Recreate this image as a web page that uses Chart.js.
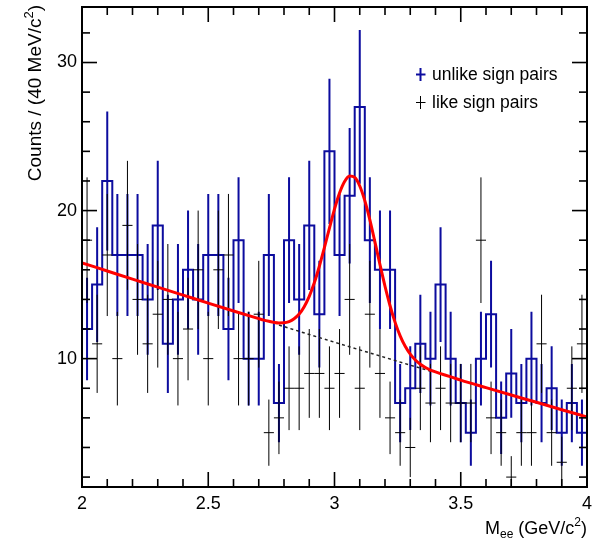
<!DOCTYPE html>
<html><head><meta charset="utf-8">
<script src="https://cdn.jsdelivr.net/npm/chart.js@4.4.1/dist/chart.umd.min.js"></script>
<style>html,body{margin:0;padding:0;background:#fff}#c{display:block}</style>
</head><body>
<canvas id="c" width="604" height="542"></canvas>
<script>
// ---- data ----
const xMin = 2.0, xMax = 4.0, binWidth = 0.04;
const yMin = 1.33, yMax = 33.75;
const unlikeCounts = [12,15,22,17,17,17,14,19,11,14,
                      16,14,17,17,12,18,10,10,17,7,
                      18,14,19,13,24,17,21,27,18,16,
                      16,7,8,11,10,15,10,7,5,10,
                      13,6,9,7,10,7,8,5,7,5];
const likeCounts   = [18,11,17,10,19,14,11,13,14,10,
                      12,16,10,16,17,10,10,13,5,6,
                      8,8,9,9,8,9,14,8,13,9,
                      6,5,4,8,7,8,7,7,7,18,
                      6,5,2,5,5,11,5,3,8,11];
const fitX = [2.0,2.1,2.2,2.3,2.4,2.5,2.6,2.7,
              2.72,2.74,2.76,2.78,2.80,2.82,2.84,2.86,2.88,2.90,
              2.92,2.94,2.96,2.98,3.00,3.02,3.04,3.06,3.08,3.10,
              3.12,3.14,3.16,3.18,3.20,3.22,3.24,3.26,3.28,3.30,
              3.32,3.34,3.36,3.38,3.40,
              3.5,3.6,3.7,3.8,3.9,4.0];
const fitY = [16.47,15.92,15.37,14.83,14.29,13.75,13.22,12.70,
              12.60,12.52,12.45,12.41,12.42,12.50,12.69,13.01,13.51,14.21,
              15.12,16.24,17.50,18.82,20.10,21.19,21.97,22.34,22.24,21.66,
              20.67,19.37,17.89,16.36,14.89,13.57,12.45,11.54,10.83,10.30,
              9.91,9.62,9.40,9.23,9.10,
              8.55,8.04,7.54,7.05,6.55,6.06];
const bgX = [2.78,2.9,3.0,3.1,3.2,3.3,3.38];
const bgY = [12.27,11.63,11.11,10.59,10.08,9.56,9.16];
const xTickLabels = ['2','2.5','3','3.5','4'];
const yTickLabels = ['10','20','30'];
const legendLabels = ['unlike sign pairs','like sign pairs'];

// ---- build datasets ----
const binLow = unlikeCounts.map((_, i) => +(xMin + binWidth * i).toFixed(2));
const centers = binLow.map(v => +(v + binWidth / 2).toFixed(2));

const histData = [];
unlikeCounts.forEach((n, i) => {
  histData.push({x: binLow[i], y: n}, {x: +(binLow[i] + binWidth).toFixed(2), y: n});
});
const unlikeErr = [];
unlikeCounts.forEach((n, i) => {
  const e = Math.sqrt(n);
  unlikeErr.push({x: centers[i], y: n - e}, {x: centers[i], y: n + e}, {x: centers[i], y: null});
});
const likeErr = [];
const likeBar = [];
likeCounts.forEach((n, i) => {
  const e = Math.sqrt(n);
  likeErr.push({x: centers[i], y: n - e}, {x: centers[i], y: n + e}, {x: centers[i], y: null});
  likeBar.push({x: binLow[i], y: n}, {x: +(binLow[i] + binWidth).toFixed(2), y: n}, {x: binLow[i], y: null});
});
const fitData = fitX.map((x, i) => ({x, y: fitY[i]}));
const bgData = bgX.map((x, i) => ({x, y: bgY[i]}));

const BLUE = '#0c0c9e';
const FONT = '"Liberation Sans", Arial, Helvetica, sans-serif';

const xMinor = []; for (let k = 0; k <= 20; k++) xMinor.push(+(xMin + 0.1 * k).toFixed(2));
const yMinor = []; for (let v = 2; v <= 32; v += 2) yMinor.push(v);

function drawRich(ctx, parts, xRight, baseline) {
  let W = 0;
  parts.forEach(p => { ctx.font = p.s + 'px ' + FONT; p.w = ctx.measureText(p.t).width; W += p.w; });
  let cx = xRight - W;
  parts.forEach(p => { ctx.font = p.s + 'px ' + FONT; ctx.fillText(p.t, cx, baseline + p.dy); cx += p.w; });
}

const decor = {
  id: 'decor',
  afterDraw(chart) {
    const {ctx, chartArea: a, scales: {x, y}} = chart;
    ctx.save();
    ctx.strokeStyle = '#000';
    ctx.lineWidth = 1.6;
    const seg = (x1, y1, x2, y2) => { ctx.beginPath(); ctx.moveTo(x1, y1); ctx.lineTo(x2, y2); ctx.stroke(); };
    xMinor.forEach(v => {
      const px = x.getPixelForValue(v);
      const L = (Math.abs(v * 2 - Math.round(v * 2)) < 1e-6) ? 15 : 8;
      seg(px, a.bottom, px, a.bottom - L);
      seg(px, a.top, px, a.top + L);
    });
    yMinor.forEach(v => {
      const py = y.getPixelForValue(v);
      const L = (v % 10 === 0) ? 15 : 8;
      seg(a.left, py, a.left + L, py);
      seg(a.right, py, a.right - L, py);
    });
    ctx.lineWidth = 2;
    ctx.strokeRect(a.left, a.top, a.right - a.left, a.bottom - a.top);

    // axis titles
    ctx.fillStyle = '#000';
    ctx.textBaseline = 'alphabetic';
    ctx.textAlign = 'left';
    drawRich(ctx, [
      {t: 'M', s: 18, dy: 0}, {t: 'ee', s: 12, dy: 4},
      {t: ' (GeV/c', s: 18, dy: 0}, {t: '2', s: 12, dy: -8}, {t: ')', s: 18, dy: 0}
    ], a.right, 534);
    ctx.save();
    ctx.translate(41, a.top - 2);
    ctx.rotate(-Math.PI / 2);
    drawRich(ctx, [
      {t: 'Counts / (40 MeV/c', s: 19, dy: 0}, {t: '2', s: 13, dy: -8}, {t: ')', s: 19, dy: 0}
    ], 0, 0);
    ctx.restore();

    // legend
    ctx.lineWidth = 2; ctx.strokeStyle = BLUE;
    seg(416, 74.5, 425.5, 74.5); seg(420.5, 68, 420.5, 81);
    ctx.lineWidth = 1; ctx.strokeStyle = '#000';
    seg(416, 102.5, 425.5, 102.5); seg(420.5, 96, 420.5, 109);
    ctx.font = '17.5px ' + FONT;
    ctx.fillStyle = '#000';
    ctx.fillText(legendLabels[0], 432, 79.5);
    ctx.fillText(legendLabels[1], 432, 107.5);
    ctx.restore();
  }
};

function zeroPad(s) { s.paddingTop = 0; s.paddingBottom = 0; s.paddingLeft = 0; s.paddingRight = 0; }

new Chart(document.getElementById('c'), {
  type: 'line',
  data: {
    datasets: [
      {label: 'fit', data: fitData, borderColor: '#ff0000', borderWidth: 3, pointRadius: 0,
       cubicInterpolationMode: 'monotone', order: 0},
      {label: 'bg', data: bgData, borderColor: '#222', borderWidth: 1.5, borderDash: [3, 3],
       pointRadius: 0, order: 1},
      {label: 'like bar', data: likeBar, borderColor: '#000', borderWidth: 1, pointRadius: 0,
       spanGaps: false, order: 2},
      {label: 'like err', data: likeErr, borderColor: '#000', borderWidth: 1, pointRadius: 0,
       spanGaps: false, order: 3},
      {label: 'unlike err', data: unlikeErr, borderColor: BLUE, borderWidth: 2, pointRadius: 0,
       spanGaps: false, order: 4},
      {label: 'unlike', data: histData, borderColor: BLUE, borderWidth: 2, pointRadius: 0,
       order: 5}
    ]
  },
  options: {
    responsive: false,
    animation: false,
    events: [],
    layout: {padding: {top: 7, right: 17, left: 0, bottom: 0}},
    plugins: {legend: {display: false}, tooltip: {enabled: false}},
    scales: {
      x: {
        type: 'linear', min: xMin, max: xMax,
        grid: {display: false, drawTicks: false}, border: {display: false},
        ticks: {
          stepSize: 0.5, autoSkip: false, maxRotation: 0, padding: 6,
          color: '#000', font: {family: FONT, size: 18},
          callback: v => { const l = xTickLabels.find(s => Math.abs(parseFloat(s) - v) < 1e-6); return l === undefined ? '' : l; }
        },
        afterFit: s => { s.height = 55; zeroPad(s); }
      },
      y: {
        type: 'linear', min: yMin, max: yMax,
        grid: {display: false, drawTicks: false}, border: {display: false},
        ticks: {
          stepSize: 10, includeBounds: false, padding: 5,
          color: '#000', font: {family: FONT, size: 18},
          callback: v => { const l = yTickLabels.find(s => Math.abs(parseFloat(s) - v) < 1e-6); return l === undefined ? '' : l; }
        },
        afterFit: s => { s.width = 82; zeroPad(s); }
      }
    }
  },
  plugins: [decor]
});
</script>
</body></html>
